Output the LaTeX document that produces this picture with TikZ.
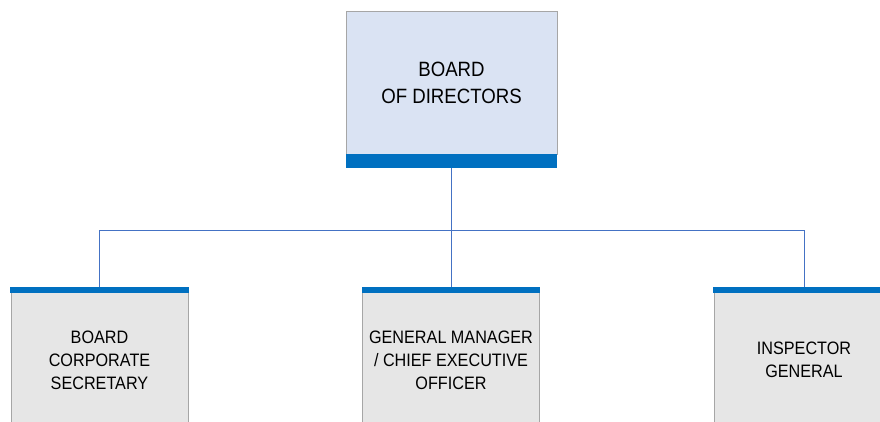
\documentclass[tikz,border=0pt]{standalone}
\usepackage{fontspec}
\setmainfont{Liberation Sans}[FakeStretch=0.9]
\usepackage{tikz}
\usetikzlibrary{calc}

\definecolor{boardfill}{HTML}{DAE3F3}
\definecolor{barblue}{HTML}{0070C0}
\definecolor{unitfill}{HTML}{E6E6E6}
\definecolor{edgegray}{HTML}{A6A6A6}
\definecolor{linkblue}{HTML}{4472C4}

\tikzset{
	boardbox/.style={rectangle, draw=edgegray, fill=boardfill, line width=0.6pt, minimum width=211pt, minimum height=143pt, align=center, font=\fontsize{20.7}{27}\selectfont},
	boardbar/.style={rectangle, fill=barblue, inner sep=0pt, minimum width=211pt, minimum height=14pt},
	unitbox/.style={rectangle, draw=edgegray, fill=unitfill, line width=0.6pt, minimum width=177pt, minimum height=146pt, align=center, font=\fontsize{18}{23}\selectfont},
	unitbar/.style={fill=barblue},
	link/.style={draw=linkblue, line width=0.8pt}
}

\begin{document}
\begin{tikzpicture}[x=1pt, y=-1pt]
		\useasboundingbox (0,0) rectangle (880,421);
		\clip (0,0) rectangle (880,421);

		% Board
		\node [boardbox] at (451.5,82.5) (dir) {BOARD\\OF DIRECTORS};
		\node [boardbar] at (451.5,161) (dirbar) {};

		% Units
		\node [unitbox] at (99.5,360) (sec) {BOARD\\CORPORATE\\SECRETARY};
		\node [unitbox] at (451,360) (gm) {GENERAL MANAGER\\/ CHIEF EXECUTIVE\\OFFICER};
		\node [unitbox, minimum width=180pt] at (804,360) (ig) {INSPECTOR\\GENERAL};
		\foreach \u in {sec,gm,ig}{
			\fill [unitbar] ($(\u.north west)+(-0.3,0)$) rectangle ($(\u.north east)+(0.3,6)$);
		}

		% Connectors
		\coordinate (bus) at (451.5,230);
		\draw [link] (dirbar.south) -- (bus);
		\draw [link] (bus) -| (sec.north);
		\draw [link] (bus) -| (gm.north);
		\draw [link] (bus) -| (ig.north);

	\end{tikzpicture}
\end{document}
